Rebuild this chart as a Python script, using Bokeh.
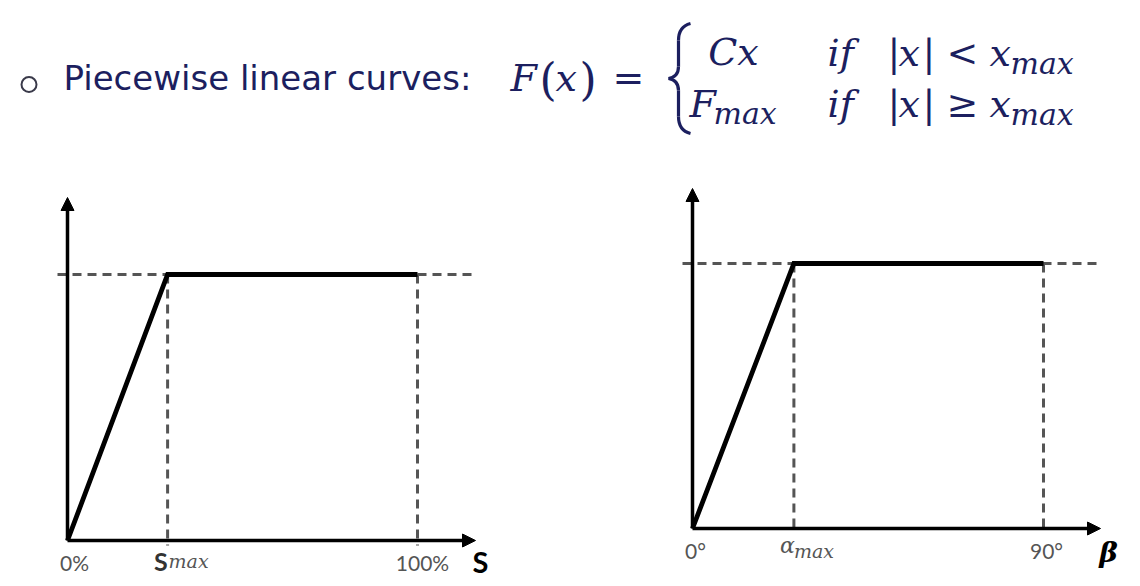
from bokeh.plotting import figure
from bokeh.layouts import column, row
from bokeh.models import Range1d, Arrow, NormalHead
from bokeh.core.properties import value
from bokeh.embed import file_html
from bokeh.resources import INLINE

# ---------------- data ----------------
title_text = "Piecewise linear curves:"
F_MAX = 1.0

# left curve: force vs slip S (percent)
s_x = [0, 28.6, 100]
s_y = [0, F_MAX, F_MAX]
s_ticks = [0, 28.6, 100]
s_tick_labels = ["0%", "S", "100%"]
s_axis_label = "S"

# right curve: force vs angle beta (degrees)
b_x = [0, 26, 90]
b_y = [0, F_MAX, F_MAX]
b_ticks = [0, 26, 90]
b_tick_labels = ["0°", "α", "90°"]
b_axis_label = "β"

NAVY = "#1c1f5f"
GRAY = "#555555"
MATHFONT = value("DejaVu Serif")
SANS = value("Lato")
K = 0.37  # alphabetic-baseline correction (fraction of font size)

W_TOTAL, H_HEAD, H_CHART = 1140, 158, 428
W_CHART = W_TOTAL // 2


def base_fig(w, h, xr, yr):
    p = figure(width=w, height=h, x_range=xr, y_range=yr,
               output_backend="svg", toolbar_location=None,
               min_border=0, min_border_left=0, min_border_right=0,
               min_border_top=0, min_border_bottom=0)
    p.axis.visible = False
    p.grid.visible = False
    p.outline_line_color = None
    p.background_fill_color = "white"
    p.border_fill_color = "white"
    return p


# ---------------- header (title + formula) ----------------
head = base_fig(W_TOTAL, H_HEAD, Range1d(0, W_TOTAL), Range1d(H_HEAD, 0))

head.scatter([28.5], [84], marker="circle", size=15, fill_color=None,
             line_color="#3a3a4a", line_width=2)


def htext(x, y, s, size, font, style="normal", color=NAVY, align="left"):
    head.text([x], [y - K * size], text=[s], text_font=font,
              text_font_size=f"{size}px", text_font_style=style, text_color=color,
              text_baseline="alphabetic", text_align=align)


htext(63, 90, title_text, 34, value("DejaVu Sans"))

M = 38   # main math size
S = 30   # subscript size
htext(510, 92, "F", M, MATHFONT, "italic")
htext(539, 95, "(", 44, MATHFONT)
htext(555, 92, "x", M, MATHFONT, "italic")
htext(579, 95, ")", 44, MATHFONT)
htext(612, 92, "=", M, MATHFONT)

# curly brace
NB = dict(line_color=NAVY, line_width=3.2)
head.bezier(x0=[690, 678, 668, 678], y0=[23, 66, 78, 116],
            x1=[678, 668, 678, 690], y1=[40, 78, 90, 133],
            cx0=[682, 678, 674, 678], cy0=[25, 73, 79, 125],
            cx1=[678, 674, 678, 682], cy1=[31, 77, 83, 131], **NB)
head.segment(x0=[678, 678], y0=[40, 90], x1=[678, 678], y1=[66, 116], **NB)

# rows of the case expression
for yb, lhs, rel in [(67, "Cx", "<"), (118, None, "≥")]:
    if lhs:
        htext(733, yb - 1, lhs, M, MATHFONT, "italic", align="center")
    else:
        htext(689, yb, "F", M, MATHFONT, "italic")
        htext(713, yb + 6, "max", S, MATHFONT, "italic")
    htext(827, yb, "if", M, MATHFONT, "italic")
    htext(887, yb, "|", M, MATHFONT)
    htext(898, yb, "x", M, MATHFONT, "italic")
    htext(922, yb, "|", M, MATHFONT)
    htext(946, yb, rel, M, MATHFONT)
    htext(989, yb, "x", M, MATHFONT, "italic")
    htext(1010, yb + 7, "max", S, MATHFONT, "italic")


# ---------------- charts ----------------
def chart(xs, ys, ticks, tick_labels, axis_label, ox, oy, ppx, ppy,
          x_arrow_px, y_arrow_px, greek):
    """ox, oy: origin pixel inside the figure (from left / from top)."""
    xr = Range1d(-ox / ppx, (W_CHART - ox) / ppx)
    yr = Range1d(-(H_CHART - oy) / ppy, oy / ppy)
    p = base_fig(W_CHART, H_CHART, xr, yr)

    dx = lambda px: px / ppx
    dy = lambda px: px / ppy
    x_end = dx(x_arrow_px)

    def lab(x, below_px, s, size, font, style="normal", color=GRAY, align="left"):
        p.text([x], [dy(-(below_px - K * size))], text=[s], text_font=font,
               text_font_size=f"{size}px", text_font_style=style,
               text_color=color, text_align=align, text_baseline="alphabetic")

    dash = dict(line_color=GRAY, line_width=3, line_dash="9 6")
    # horizontal dashed level at F_MAX
    p.line([dx(-10), x_end + dx(2)], [F_MAX, F_MAX], **dash)
    # vertical dashed drops at the knee and at the end of range
    p.segment(x0=ticks[1:], y0=[F_MAX] * 2, x1=ticks[1:], y1=[dy(-5)] * 2, **dash)

    # axes with arrows
    head_kw = dict(size=13, fill_color="black", line_color="black")
    p.add_layout(Arrow(end=NormalHead(**head_kw), x_start=0, y_start=0,
                       x_end=x_end, y_end=0, line_width=3.5, line_color="black"))
    p.add_layout(Arrow(end=NormalHead(**head_kw), x_start=0, y_start=0,
                       x_end=0, y_end=dy(y_arrow_px), line_width=3.5,
                       line_color="black"))

    # the curve
    p.line(xs, ys, line_color="black", line_width=4.8, line_join="miter")

    if not greek:
        lab(ticks[0] + dx(7), 30, tick_labels[0], 21, SANS, align="center")
        lab(ticks[2] + dx(5), 30, tick_labels[2], 21, SANS, align="center")
        lab(ticks[1], 30, tick_labels[1], 25, SANS, "bold", "#333333", "right")
        lab(ticks[1] + dx(1), 28, "max", 19, MATHFONT, "italic")
        lab(x_end + dx(5), 32, axis_label, 29, SANS, "bold", "black", "center")
    else:
        lab(ticks[0] + dx(3), 30, tick_labels[0], 21, SANS, align="center")
        lab(ticks[2] + dx(3), 30, tick_labels[2], 21, SANS, align="center")
        lab(ticks[1] + dx(1), 25, tick_labels[1], 22, MATHFONT, "italic", align="right")
        lab(ticks[1], 30, "max", 19, MATHFONT, "italic")
        lab(x_end + dx(8), 34, axis_label, 28, MATHFONT, "bold italic", "black", "center")
    return p


left = chart(s_x, s_y, s_ticks, s_tick_labels, s_axis_label,
             ox=67, oy=540 - H_HEAD, ppx=3.5, ppy=266,
             x_arrow_px=408, y_arrow_px=343, greek=False)
right = chart(b_x, b_y, b_ticks, b_tick_labels, b_axis_label,
              ox=692 - W_CHART, oy=528 - H_HEAD, ppx=3.9, ppy=265,
              x_arrow_px=408, y_arrow_px=340, greek=True)

layout = column(head, row(left, right, spacing=0), spacing=0)

open("out.html", "w").write(file_html(layout, INLINE))
